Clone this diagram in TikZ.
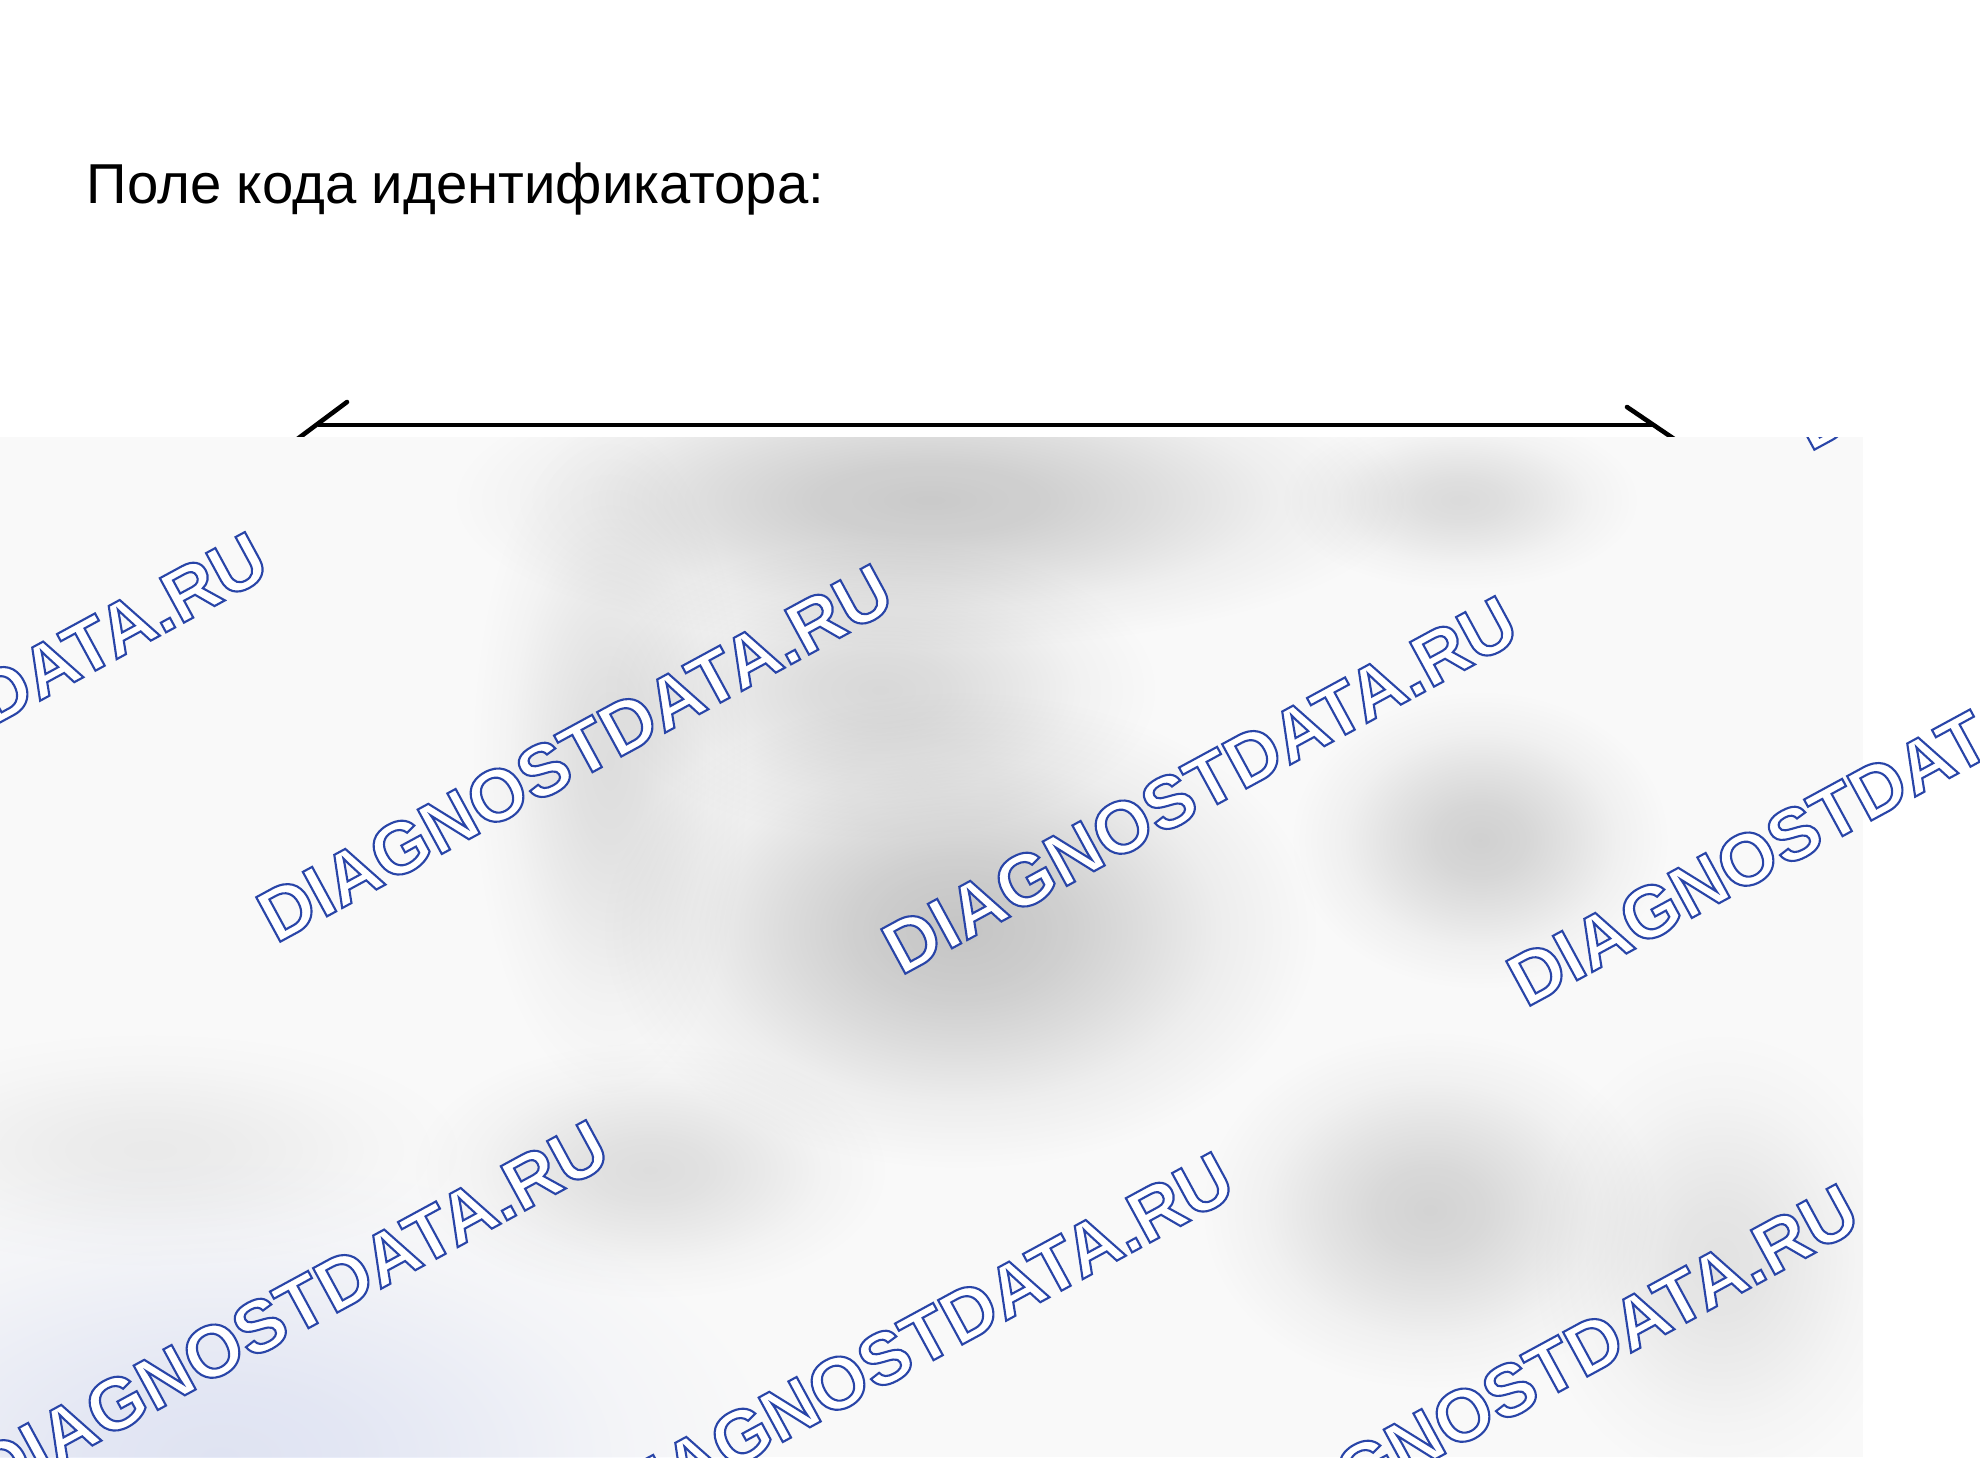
\documentclass[tikz,border=0pt]{standalone}
\usepackage{fontspec}
\setmainfont{Liberation Sans}
\usetikzlibrary{calc}
\definecolor{ovbase}{HTML}{F9F9F9}
\definecolor{bluetint}{RGB}{229,233,248}
\colorlet{blobc}{gray}
\pgfdeclareradialshading[blobc]{softblob}{\pgfpoint{0bp}{0bp}}{%
  color(0bp)=(blobc); color(6bp)=(blobc!85!white); color(12bp)=(blobc!55!white);
  color(18bp)=(blobc!22!white); color(25bp)=(white); color(50bp)=(white)}
\newcommand\outlinetext[1]{{\color{white}\special{pdf:literal direct 2 Tr 0.6 w 0.16 0.27 0.66 RG}#1\special{pdf:literal direct 0 Tr}}}
\tikzset{
  shaft/.style={line width=1.0pt, black},
  barb/.style={line width=1.3pt, black, line cap=round},
  wm/.style={inner sep=0pt, outer sep=0pt, anchor=base west, rotate=28.5,
    font=\fontsize{20.9}{25}\selectfont\bfseries},
  blob/.style={shading=softblob, blend mode=multiply},
}
\begin{document}
\begin{tikzpicture}[x=0.01cm, y=-0.01cm]
\useasboundingbox (0,0) rectangle (1980,1457);
\fill[white] (0,0) rectangle (1980,1457);
% title
\node[anchor=base west, inner sep=0pt, font=\fontsize{16}{19}\selectfont] (title) at (86,203) {Поле кода идентификатора:};
% arrow
\coordinate (arrL) at (318,425);
\coordinate (arrR) at (1652,425);
\draw[shaft] (arrL) -- (arrR);
\draw[barb] ($(arrL)+(29,-23)$) -- ($(arrL)+(-30,21)$);
\draw[barb] ($(arrR)+(-25,-18)$) -- ($(arrR)+(34,22)$);
% blurred overlay
\begin{scope}
\clip (0,437) rectangle (1863,1457);
\fill[ovbase] (0,437) rectangle (1863,1457);
\colorlet{blobc}{black!19}\shade[blob] (930,500) ellipse (480 and 150);
\colorlet{blobc}{black!12}\shade[blob] (1460,500) ellipse (180 and 90);
\colorlet{blobc}{black!13}\shade[blob] (880,690) ellipse (280 and 150);
\colorlet{blobc}{black!21}\shade[blob] (960,930) ellipse (360 and 240);
\colorlet{blobc}{black!16}\shade[blob] (1480,840) ellipse (190 and 150);
\colorlet{blobc}{black!11}\shade[blob] (610,760) ellipse (140 and 340);
\colorlet{blobc}{black!15}\shade[blob] (1430,1210) ellipse (230 and 180);
\colorlet{blobc}{black!6}\shade[blob] (150,1150) ellipse (320 and 120);
\colorlet{blobc}{black!11}\shade[blob] (650,1170) ellipse (240 and 130);
\colorlet{blobc}{black!9}\shade[blob] (1720,1260) ellipse (190 and 230);
\colorlet{blobc}{bluetint}\shade[blob] (220,1457) ellipse (560 and 300);
\end{scope}
% watermarks
\begin{scope}
\clip (0,437) rectangle (1980,1457);
\foreach \i in {-1,0,1,2,3}{
  \foreach \j in {-1,0,1}{
    \node[wm] (wm\i\j) at ({276+625*\i-284*\j},{944+32*\i+556*\j}) {\outlinetext{DIAGNOSTDATA.RU}};
  }
}
\end{scope}
\end{tikzpicture}
\end{document}
